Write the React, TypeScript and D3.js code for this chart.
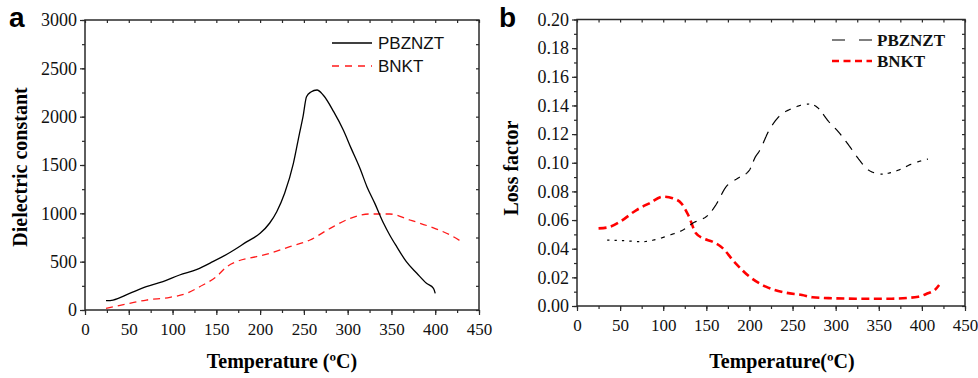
import { useEffect, useRef } from 'react'
import * as d3 from 'd3'

// Panel a: dielectric constant vs temperature
const tempDielPBZNZT = [24, 32, 51, 70, 89, 108, 128, 146, 166, 185, 200, 211, 219, 228, 238, 245, 249, 253, 258, 265, 272, 284, 295, 304, 314, 322, 331, 341, 348, 356, 367, 379, 390, 398, 400]
const dielPBZNZT = [96, 103, 172, 241, 293, 362, 421, 500, 597, 707, 793, 900, 1017, 1207, 1517, 1828, 2000, 2207, 2255, 2276, 2224, 2052, 1862, 1672, 1466, 1276, 1103, 897, 776, 655, 500, 380, 276, 224, 172]
const tempDielBNKT = [24, 51, 70, 97, 116, 131, 150, 162, 173, 196, 211, 234, 257, 280, 303, 325, 348, 371, 394, 417, 430]
const dielBNKT = [17, 69, 103, 131, 172, 241, 345, 448, 500, 552, 586, 655, 724, 845, 948, 993, 993, 931, 862, 776, 707]

// Panel b: loss factor vs temperature
const tempLossPBZNZT = [35, 54, 75, 92, 108, 123, 134, 154, 161, 173, 186, 200, 207, 211, 223, 234, 250, 269, 278, 292, 303, 315, 326, 338, 353, 373, 388, 407]
const lossPBZNZT = [0.046, 0.0456, 0.0449, 0.0465, 0.0496, 0.0531, 0.0577, 0.0647, 0.0705, 0.0833, 0.089, 0.0949, 0.1042, 0.1077, 0.1229, 0.1321, 0.138, 0.141, 0.139, 0.1287, 0.1217, 0.1124, 0.1031, 0.0949, 0.0921, 0.0949, 0.0991, 0.1026]
const tempLossBNKT = [25, 36, 50, 69, 84, 100, 111, 121, 129, 138, 146, 157, 167, 184, 200, 219, 242, 261, 273, 296, 326, 365, 396, 407, 415, 420]
const lossBNKT = [0.0542, 0.0549, 0.0589, 0.067, 0.0717, 0.0763, 0.0752, 0.0717, 0.0635, 0.0507, 0.0473, 0.0449, 0.0414, 0.0298, 0.0205, 0.0135, 0.0093, 0.0077, 0.0061, 0.0054, 0.0051, 0.0051, 0.0065, 0.0089, 0.0112, 0.0147]

const xTicks = [0, 50, 100, 150, 200, 250, 300, 350, 400, 450]
const dielTicks = [0, 500, 1000, 1500, 2000, 2500, 3000]
const lossTicks = [0, 0.02, 0.04, 0.06, 0.08, 0.1, 0.12, 0.14, 0.16, 0.18, 0.2]

const SERIF = '"Liberation Serif", "Times New Roman", serif'
const SANS = '"Liberation Sans", Arial, sans-serif'
const AXIS = '#2a2a2a'

type G = d3.Selection<SVGGElement, unknown, null, undefined>

function drawFrame(
  g: G,
  x: d3.ScaleLinear<number, number>,
  y: d3.ScaleLinear<number, number>,
  yTicks: number[],
  yMinor: number[],
  yFmt: (v: number) => string
) {
  const [x0, x1] = x.range()
  const [y0, y1] = y.range()
  const xMinor = d3.range(0, 451, 25)

  const style = (a: G) => {
    a.select('.domain').remove()
    a.selectAll('line').attr('stroke', AXIS).attr('stroke-width', 1.2)
    a.selectAll('text').attr('font-family', SERIF).attr('fill', '#111')
  }

  // minor ticks
  g.append('g').attr('transform', `translate(0,${y0})`)
    .call(d3.axisBottom(x).tickValues(xMinor).tickSize(3).tickFormat(() => ''))
    .call(style)
  g.append('g').attr('transform', `translate(${x0},0)`)
    .call(d3.axisLeft(y).tickValues(yMinor).tickSize(3).tickFormat(() => ''))
    .call(style)
  g.append('g').attr('transform', `translate(0,${y1})`)
    .call(d3.axisTop(x).tickValues(xMinor).tickSize(-3).tickFormat(() => ''))
    .call(style)
  g.append('g').attr('transform', `translate(${x1},0)`)
    .call(d3.axisRight(y).tickValues(yMinor).tickSize(-3).tickFormat(() => ''))
    .call(style)

  // major ticks + labels
  g.append('g').attr('transform', `translate(0,${y0})`)
    .call(d3.axisBottom(x).tickValues(xTicks).tickSize(5).tickPadding(8).tickFormat(d3.format('d')))
    .call(style)
    .selectAll('text').attr('font-size', 17)
  g.append('g').attr('transform', `translate(${x0},0)`)
    .call(d3.axisLeft(y).tickValues(yTicks).tickSize(5).tickPadding(3).tickFormat(d => yFmt(+d)))
    .call(style)
    .selectAll('text').attr('font-size', 18)

  g.append('rect')
    .attr('x', x0).attr('y', y1)
    .attr('width', x1 - x0).attr('height', y0 - y1)
    .attr('fill', 'none').attr('stroke', AXIS).attr('stroke-width', 1.5)
}

// dashes whose length grows with the local steepness of the curve
function slopeDash(el: SVGPathElement, dashFn: (s: number) => number, gapFn: (s: number) => number) {
  const L = el.getTotalLength()
  let s = 0
  let d = ''
  while (s < L) {
    const p0 = el.getPointAtLength(s)
    const p1 = el.getPointAtLength(Math.min(L, s + 1.5))
    const sin = Math.abs(Math.sin(Math.atan2(p1.y - p0.y, p1.x - p0.x)))
    const e = Math.min(L, s + dashFn(sin))
    d += `M${p0.x.toFixed(2)},${p0.y.toFixed(2)}`
    for (let t = s + 0.5; t < e; t += 0.5) {
      const p = el.getPointAtLength(t)
      d += `L${p.x.toFixed(2)},${p.y.toFixed(2)}`
    }
    const pe = el.getPointAtLength(e)
    d += `L${pe.x.toFixed(2)},${pe.y.toFixed(2)}`
    s = e + gapFn(sin)
  }
  return d
}

export default function App() {
  const svgRef = useRef<SVGSVGElement>(null)

  useEffect(() => {
    if (!svgRef.current) return
    const svg = d3.select(svgRef.current)
    svg.selectAll('*').remove()

    // ---------- panel a ----------
    const xa = d3.scaleLinear().domain([0, 450]).range([85, 479])
    const ya = d3.scaleLinear().domain([0, 3000]).range([310, 20])
    const ga = svg.append('g') as unknown as G
    drawFrame(ga, xa, ya, dielTicks, d3.range(0, 3001, 250), v => String(v))

    const lineA = d3.line<[number, number]>()
      .x(d => xa(d[0])).y(d => ya(d[1]))
      .curve(d3.curveMonotoneX)

    ga.append('path')
      .attr('d', lineA(tempDielBNKT.map((t, i) => [t, dielBNKT[i]])))
      .attr('fill', 'none').attr('stroke', '#ff1a1a').attr('stroke-width', 1.3)
      .attr('stroke-dasharray', '7,5')
    ga.append('path')
      .attr('d', lineA(tempDielPBZNZT.map((t, i) => [t, dielPBZNZT[i]])))
      .attr('fill', 'none').attr('stroke', '#000').attr('stroke-width', 1.3)

    // legend a
    ga.append('line').attr('x1', 332).attr('x2', 372).attr('y1', 43).attr('y2', 43)
      .attr('stroke', '#000').attr('stroke-width', 1.3)
    ga.append('line').attr('x1', 332).attr('x2', 372).attr('y1', 66).attr('y2', 66)
      .attr('stroke', '#ff1a1a').attr('stroke-width', 1.3).attr('stroke-dasharray', '7,6')
    ga.append('text').attr('x', 378).attr('y', 49).text('PBZNZT')
      .attr('font-family', SANS).attr('font-size', 17).attr('fill', '#111')
    ga.append('text').attr('x', 378).attr('y', 72).text('BNKT')
      .attr('font-family', SANS).attr('font-size', 17).attr('fill', '#111')

    ga.append('text').attr('x', 282).attr('y', 368).attr('text-anchor', 'middle')
      .attr('font-family', SERIF).attr('font-weight', 'bold').attr('font-size', 20)
      .text('Temperature (ºC)')
    ga.append('text').attr('transform', 'translate(27,167) rotate(-90)').attr('text-anchor', 'middle')
      .attr('font-family', SERIF).attr('font-weight', 'bold').attr('font-size', 20)
      .text('Dielectric constant')
    ga.append('text').attr('x', 9).attr('y', 27).text('a')
      .attr('font-family', SANS).attr('font-weight', 'bold').attr('font-size', 28)

    // ---------- panel b ----------
    const xb = d3.scaleLinear().domain([0, 450]).range([577, 965])
    const yb = d3.scaleLinear().domain([0, 0.2]).range([306, 19.5])
    const gb = svg.append('g') as unknown as G
    drawFrame(gb, xb, yb, lossTicks, d3.range(0, 0.2001, 0.01), d3.format('.2f'))

    const lineB = d3.line<[number, number]>()
      .x(d => xb(d[0])).y(d => yb(d[1]))
      .curve(d3.curveMonotoneX)

    gb.append('path')
      .attr('d', lineB(tempLossBNKT.map((t, i) => [t, lossBNKT[i]])))
      .attr('fill', 'none').attr('stroke', '#ff0000').attr('stroke-width', 2.6)
      .attr('stroke-dasharray', '8,4.5')

    const guide = gb.append('path')
      .attr('d', lineB(tempLossPBZNZT.map((t, i) => [t, lossPBZNZT[i]])))
      .attr('fill', 'none').attr('stroke', 'none')
    const dashD = slopeDash(
      guide.node() as SVGPathElement,
      s => 2.2 + 12 * Math.pow(s, 1.5),
      s => 5 + 3 * s
    )
    guide.remove()
    gb.append('path').attr('d', dashD)
      .attr('fill', 'none').attr('stroke', '#000').attr('stroke-width', 1.2)

    // legend b
    gb.append('line').attr('x1', 832).attr('x2', 872).attr('y1', 40).attr('y2', 40)
      .attr('stroke', '#000').attr('stroke-width', 1.2).attr('stroke-dasharray', '13,14')
    gb.append('line').attr('x1', 832).attr('x2', 872).attr('y1', 61).attr('y2', 61)
      .attr('stroke', '#ff0000').attr('stroke-width', 2.6).attr('stroke-dasharray', '7,4.5')
    gb.append('text').attr('x', 877).attr('y', 46).text('PBZNZT')
      .attr('font-family', SERIF).attr('font-weight', 'bold').attr('font-size', 17).attr('fill', '#111')
    gb.append('text').attr('x', 877).attr('y', 67).text('BNKT')
      .attr('font-family', SERIF).attr('font-weight', 'bold').attr('font-size', 17).attr('fill', '#111')

    gb.append('text').attr('x', 782).attr('y', 368).attr('text-anchor', 'middle')
      .attr('font-family', SERIF).attr('font-weight', 'bold').attr('font-size', 20)
      .text('Temperature(ºC)')
    gb.append('text').attr('transform', 'translate(518,168) rotate(-90)').attr('text-anchor', 'middle')
      .attr('font-family', SERIF).attr('font-weight', 'bold').attr('font-size', 20)
      .text('Loss factor')
    gb.append('text').attr('x', 499).attr('y', 27).text('b')
      .attr('font-family', SANS).attr('font-weight', 'bold').attr('font-size', 28)
  }, [])

  return (
    <svg
      ref={svgRef}
      width={978}
      height={378}
      style={{ position: 'absolute', left: 0, top: 0, background: '#fff' }}
    />
  )
}
